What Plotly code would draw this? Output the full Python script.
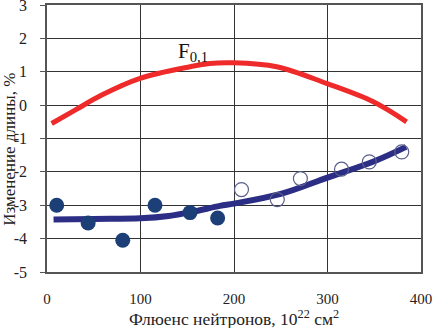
import plotly.graph_objects as go

# Red calculated curve F0,1
red_x = [5, 30, 58.5, 99.5, 153, 174, 199, 245.6, 299, 349, 384.6]
red_y = [-0.55, -0.15, 0.30, 0.80, 1.15, 1.25, 1.27, 1.15, 0.65, 0.10, -0.50]

# Blue fit curve
blue_x = [7, 50, 100, 130, 155, 185, 200, 250, 300, 350, 384]
blue_y = [-3.43, -3.41, -3.39, -3.32, -3.2, -3.02, -2.95, -2.66, -2.17, -1.68, -1.25]

# Filled experimental points
filled_x = [10.4, 44, 81, 115.5, 153, 182.5]
filled_y = [-3.0, -3.53, -4.05, -3.0, -3.22, -3.38]

# Open experimental points
open_x = [208, 246.3, 271, 315, 344.7, 379.4]
open_y = [-2.53, -2.83, -2.2, -1.92, -1.7, -1.4]

x_ticks = [0, 100, 200, 300, 400]
y_ticks = [3, 2, 1, 0, -1, -2, -3, -4, -5]
y_tick_text = ["3", "2", "1", "0", "-1", "-2", "-3", "-4", "-5"]

serif = "Liberation Serif"

fig = go.Figure()
fig.add_trace(go.Scatter(x=red_x, y=red_y, mode="lines",
                         line=dict(color="#ee2a2a", width=5, shape="spline"),
                         showlegend=False))
fig.add_trace(go.Scatter(x=blue_x, y=blue_y, mode="lines",
                         line=dict(color="#2b2e84", width=6, shape="spline"),
                         showlegend=False))
fig.add_trace(go.Scatter(x=filled_x, y=filled_y, mode="markers",
                         marker=dict(size=15, color="#1d3f78", line=dict(width=0)),
                         showlegend=False))
fig.add_trace(go.Scatter(x=open_x, y=open_y, mode="markers",
                         marker=dict(size=14, color="rgba(255,255,255,0)",
                                     line=dict(width=1.2, color="#5a6088")),
                         showlegend=False))

fig.add_annotation(x=156, y=1.6, text="F<sub>0,1</sub>", showarrow=False,
                   xanchor="center", yanchor="middle",
                   font=dict(family=serif, size=21, color="#111"))

fig.add_annotation(xref="paper", yref="paper", x=0.5, y=-0.172,
                   xanchor="center", yanchor="middle", showarrow=False,
                   text="Флюенс нейтронов, 10<sup>22</sup> см<sup>2</sup>",
                   font=dict(family=serif, size=17.5, color="#222"))
fig.add_annotation(xref="paper", yref="paper", x=-0.1, y=0.46,
                   xanchor="center", yanchor="middle", showarrow=False,
                   textangle=-90, text="Изменение длины, %",
                   font=dict(family=serif, size=17, color="#222"))

fig.update_layout(
    width=436, height=328,
    margin=dict(l=47, r=15, t=5, b=56, autoexpand=False),
    paper_bgcolor="white", plot_bgcolor="white",
    font=dict(family=serif, size=15, color="#222"),
)
fig.update_xaxes(range=[0, 400], tickvals=x_ticks, showgrid=True,
                 gridcolor="#333", gridwidth=1, showline=True, linecolor="#555",
                 linewidth=1.5, mirror=True, ticks="", zeroline=False,
                 ticklabelstandoff=12, automargin=False,
                 tickfont=dict(family=serif, size=15, color="#222"))
fig.update_yaxes(range=[-5, 3], tickvals=y_ticks, ticktext=y_tick_text,
                 showgrid=True,
                 gridcolor="#333", gridwidth=1, showline=True, linecolor="#555",
                 linewidth=1.5, mirror=True, ticks="outside", ticklen=5,
                 tickcolor="#555", zeroline=False, ticklabelstandoff=10,
                 automargin=False, ticklabeloverflow="allow",
                 tickfont=dict(family=serif, size=16, color="#222"))

fig.write_html("out.html", config={"displayModeBar": False},
               post_script="document.body.style.margin='0';document.body.style.overflow='hidden';")
